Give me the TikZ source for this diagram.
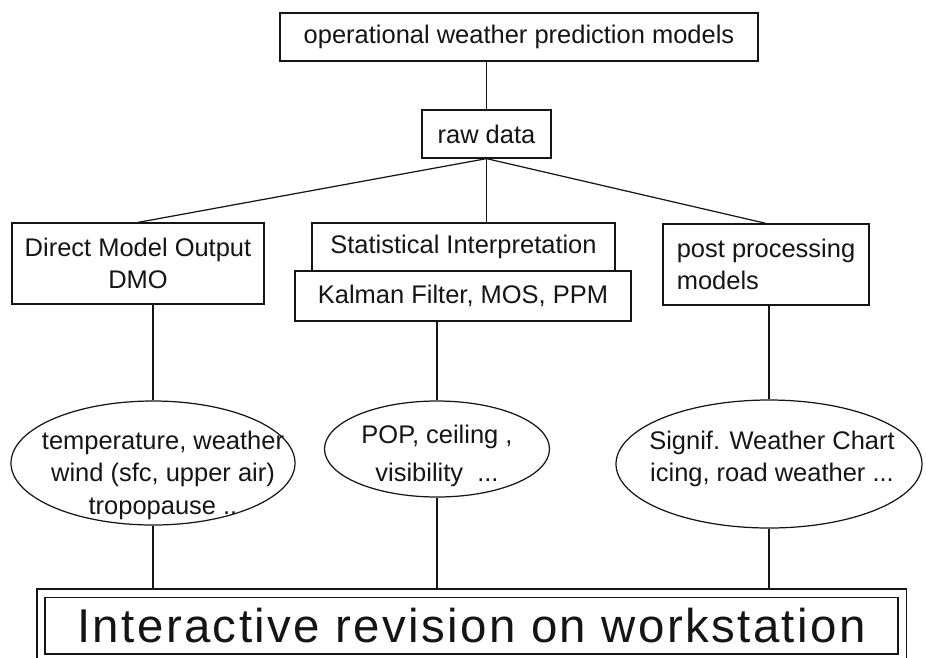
\documentclass[tikz,border=0pt]{standalone}
\usepackage{fontspec}
\setmainfont{Liberation Sans}
\newfontfamily\bigfont[LetterSpace=5]{Liberation Sans}
\usepackage{xcolor}
\usepackage{tikz}
\usetikzlibrary{shapes.geometric}
\definecolor{ink}{HTML}{151515}
\definecolor{paper}{HTML}{FFFFFF}
\newcommand\pxu{0.02cm}
\tikzset{
  sz/.style 2 args={minimum width=#1*\pxu, minimum height=#2*\pxu},
  wire/.style={draw=ink, line width=0.7pt},
  box/.style={draw=ink, line width=0.7pt, fill=paper, inner sep=0pt, align=center, text=ink, font=\fontsize{14.5}{18.5}\selectfont},
  oval/.style={ellipse, draw=ink, line width=0.7pt, inner sep=0pt},
  lab/.style={text=ink, align=center, inner sep=0pt, font=\fontsize{14.5}{18.5}\selectfont},
  frame/.style={draw=ink, line width=0.6pt, double=paper, double distance=0.14cm, outer sep=0.08cm, inner sep=0pt, text=ink, font=\bigfont\fontsize{27}{32}\selectfont},
}
\begin{document}
\begin{tikzpicture}[x=\pxu, y=-\pxu]
  \useasboundingbox (0,0) rectangle (926,657);
  \node[box, sz={478}{48}] (nwp) at (519,37) {operational weather prediction models};
  \node[box, sz={129}{48}] (raw) at (486.5,134) {raw data};
  \node[box, sz={252}{81}] (dmo) at (138,263.5) {Direct Model Output\\DMO};
  \node[box, sz={336}{50}] (kal) at (463,296) {Kalman Filter, MOS, PPM};
  \node[box, sz={303}{48}] (stat) at (463.5,247) {Statistical Interpretation};
  \node[box, sz={206}{81}, align=left] (post) at (766,264.5) {post processing\\models};
  \node[oval, sz={284}{124}] (ell1) at (153,463) {};
  \node[lab] (ell1txt) at (163,475) {temperature, weather\\wind (sfc, upper air)\\tropopause ..};
  \node[oval, sz={225}{96}] (ell2) at (437,449) {};
  \node[lab] (ell2txt) at (437,456) {POP, ceiling ,\\[3pt]visibility\ \ ...};
  \node[oval, sz={306}{128}] (ell3) at (769,464) {};
  \node[lab] (ell3txt) at (772,459) {Signif. Weather Chart\\icing, road weather ...};
  \node[frame, sz={861}{65}] (rev) at (471.5,625.5) {Interactive revision on workstation};
  \draw[wire] (raw.north) -- (raw.north |- nwp.south);
  \draw[wire] (raw.south) -- (dmo.north);
  \draw[wire] (raw.south) -- (raw.south |- stat.north);
  \draw[wire] (raw.south) -- (post.north);
  \foreach \E/\B in {ell1/dmo, ell2/kal, ell3/post} {
    \draw[wire] (\E.north) -- (\E.north |- \B.south);
    \draw[wire] (\E.south) -- (\E.south |- rev.north);
  }
\end{tikzpicture}
\end{document}
